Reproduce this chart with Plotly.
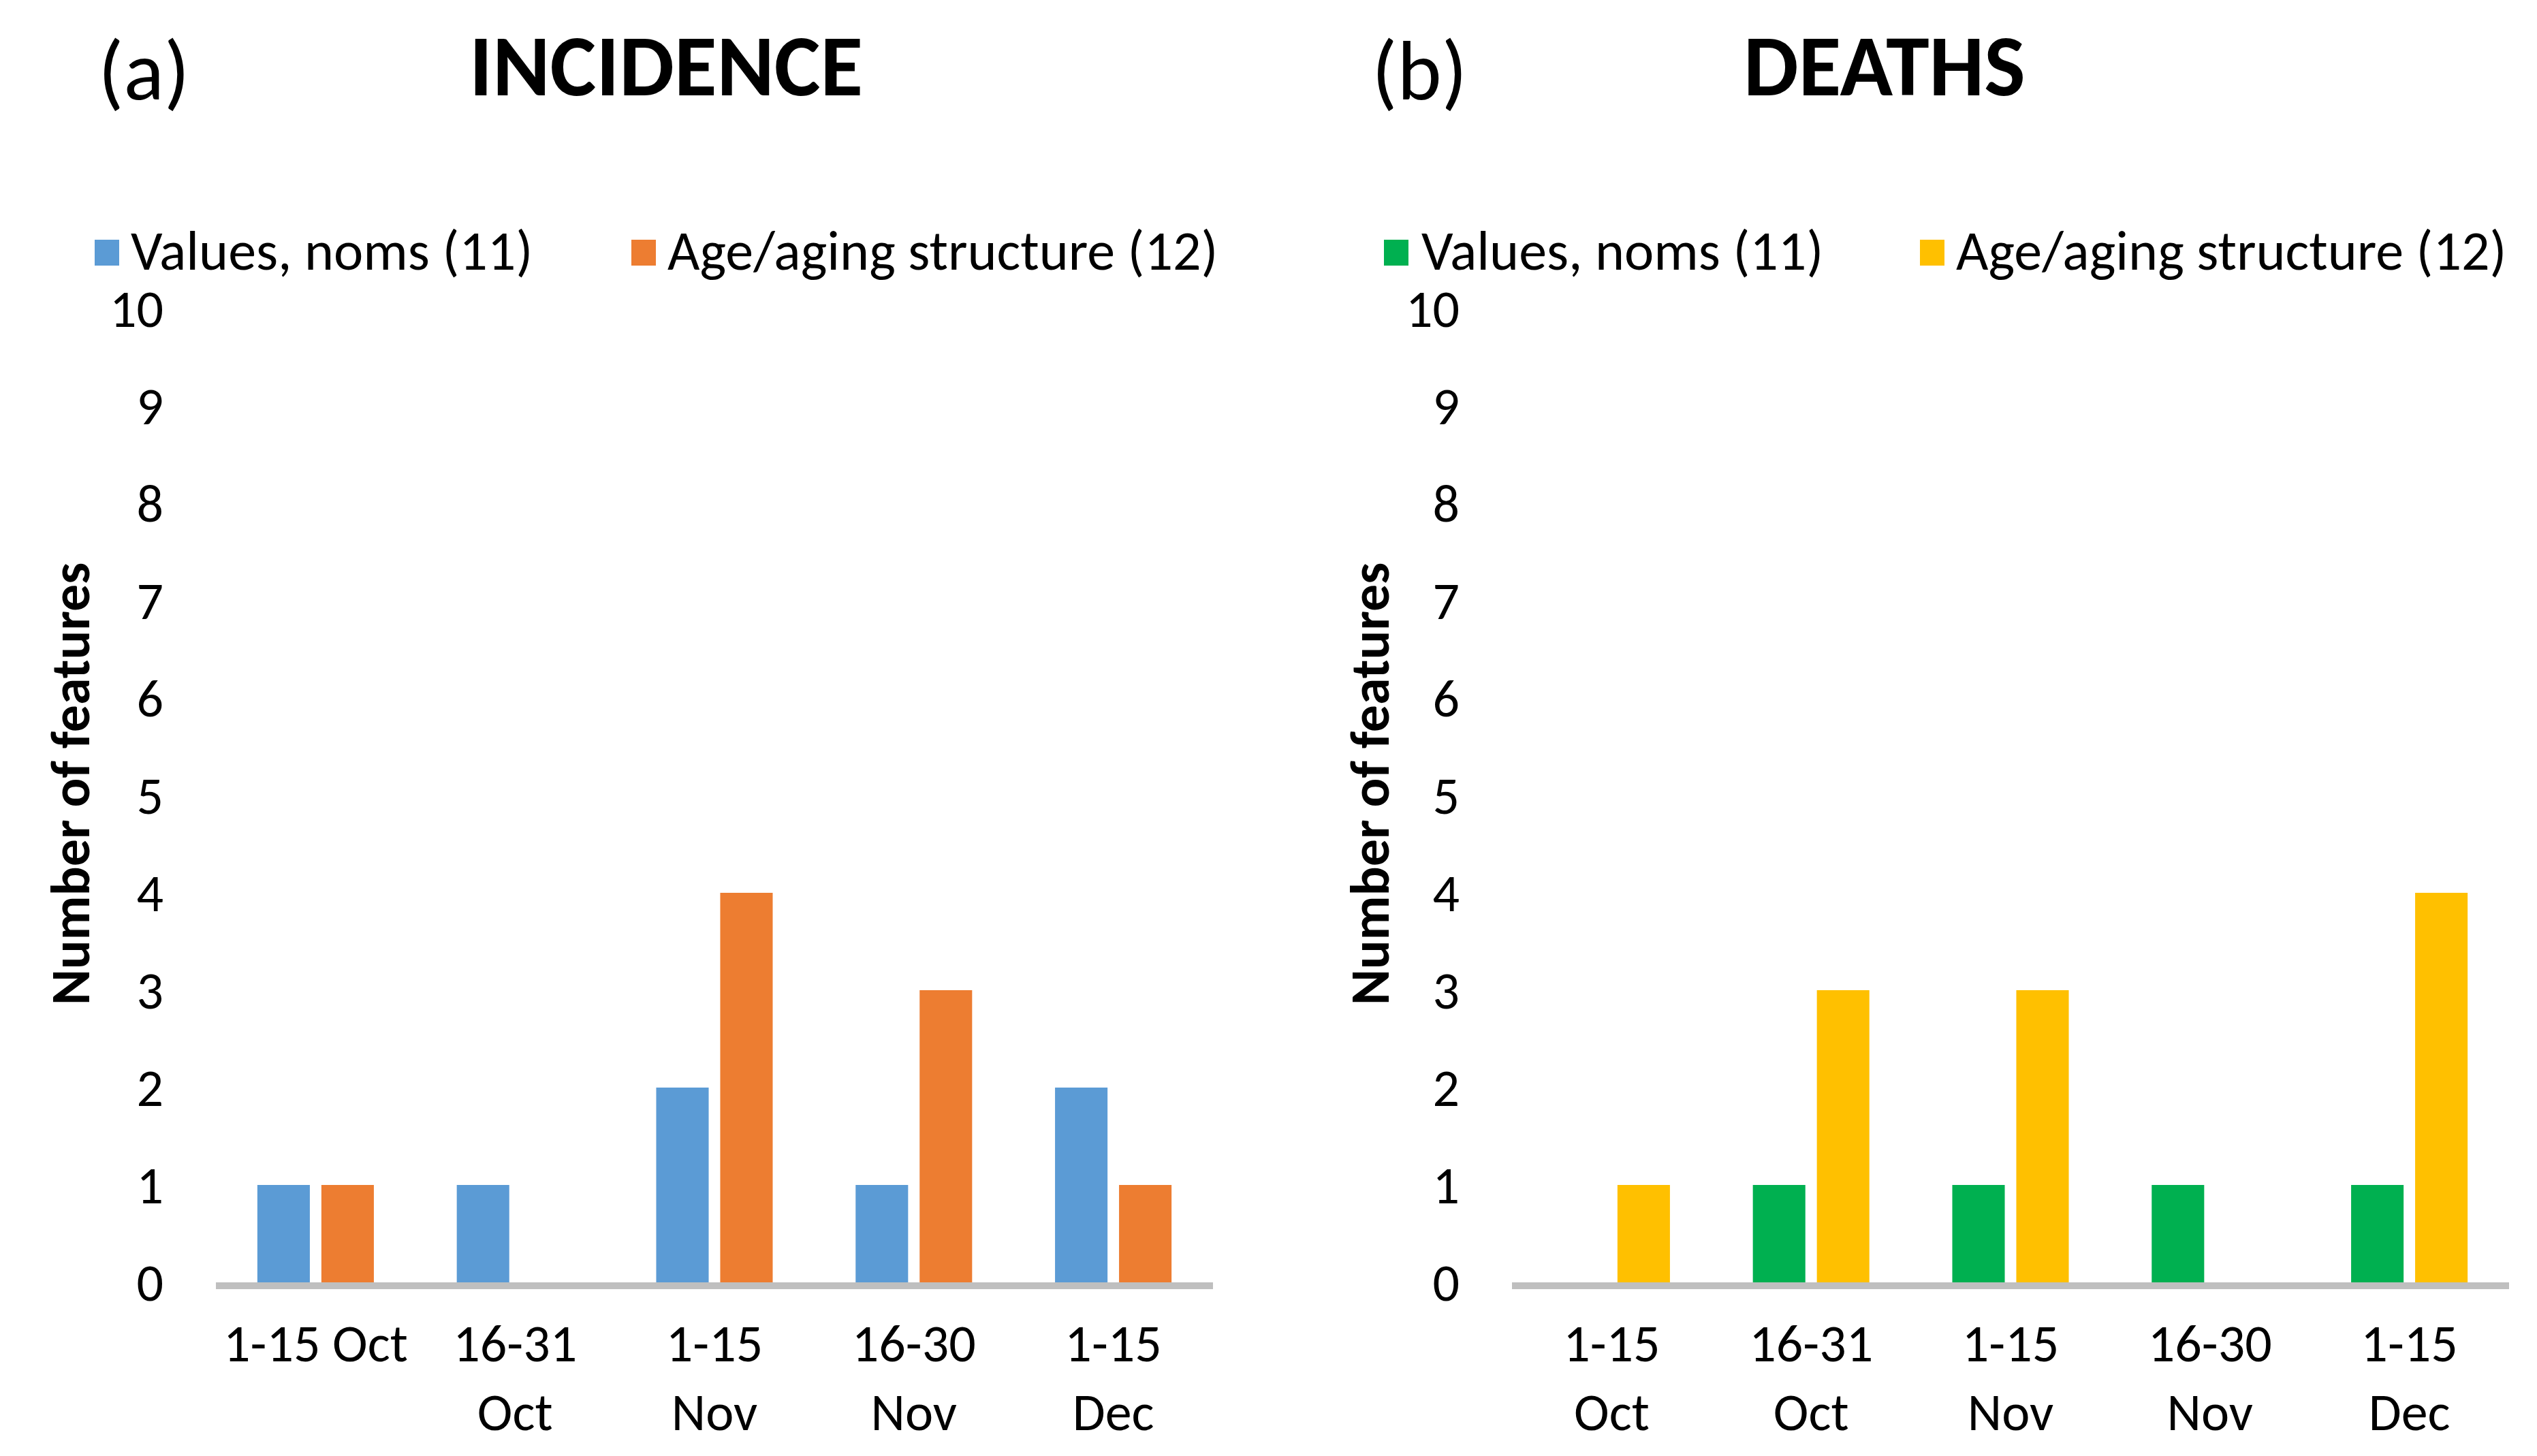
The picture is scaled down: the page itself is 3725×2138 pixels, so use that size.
import plotly.graph_objects as go

# ---- data ----
periods = ["1-15 Oct", "16-31 Oct", "1-15 Nov", "16-30 Nov", "1-15 Dec"]
ticktext_a = ["1-15 Oct", "16-31<br>Oct", "1-15<br>Nov", "16-30<br>Nov", "1-15<br>Dec"]
ticktext_b = ["1-15<br>Oct", "16-31<br>Oct", "1-15<br>Nov", "16-30<br>Nov", "1-15<br>Dec"]
series_names = ["Values, noms (11)", "Age/aging structure (12)"]
incidence_values = [1, 1, 2, 1, 2]
incidence_age = [1, 0, 4, 3, 1]
deaths_values = [0, 1, 1, 1, 1]
deaths_age = [1, 3, 3, 0, 4]
yticks = list(range(0, 11))

colors_a = ["#5B9BD5", "#ED7D31"]
colors_b = ["#00B050", "#FFC000"]

FONT = "Carlito, 'Liberation Sans Narrow', 'Arial Narrow', 'Liberation Sans', sans-serif"
W, H = 3725, 2138

fig = go.Figure()
fig.add_trace(go.Bar(x=periods, y=incidence_values, name=series_names[0],
                     marker_color=colors_a[0], xaxis="x", yaxis="y", showlegend=False))
fig.add_trace(go.Bar(x=periods, y=incidence_age, name=series_names[1],
                     marker_color=colors_a[1], xaxis="x", yaxis="y", showlegend=False))
fig.add_trace(go.Bar(x=periods, y=deaths_values, name=series_names[0],
                     marker_color=colors_b[0], xaxis="x2", yaxis="y2", showlegend=False))
fig.add_trace(go.Bar(x=periods, y=deaths_age, name=series_names[1],
                     marker_color=colors_b[1], xaxis="x2", yaxis="y2", showlegend=False))

ydom = [1 - 1875 / H, 1 - 445 / H]
tickfont = dict(family=FONT, size=78, color="black")

xcommon = dict(type="category", categoryorder="array", categoryarray=periods,
               tickvals=periods, showline=True, linecolor="#BFBFBF", linewidth=10,
               showgrid=False, zeroline=False, ticks="", tickfont=tickfont,
               ticklabelstandoff=12, fixedrange=True, automargin=False)
ycommon = dict(range=[0, 10], tickvals=yticks, showgrid=False, zeroline=False,
               showline=False, ticks="", tickfont=tickfont, ticklabelstandoff=76,
               domain=ydom, fixedrange=True, automargin=False)

fig.update_layout(
    template="none",
    width=W, height=H, autosize=False,
    margin=dict(l=0, r=0, t=0, b=0, pad=0, autoexpand=False),
    paper_bgcolor="white", plot_bgcolor="white",
    barmode="group", bargap=0.358, bargroupgap=0.18,
    font=dict(family=FONT, color="black"),
    showlegend=False,
    xaxis=dict(domain=[309 / W, 1773 / W], ticktext=ticktext_a, anchor="y", **xcommon),
    xaxis2=dict(domain=[2212 / W, 3676 / W], ticktext=ticktext_b, anchor="y2", **xcommon),
    yaxis=dict(anchor="x", **ycommon),
    yaxis2=dict(anchor="x2", **ycommon),
)

annotations = []
shapes = []

def add_panel(label, title, label_x, title_x, ytitle_x, legend_items):
    annotations.append(dict(text=label, x=label_x / W, y=1 - 95 / H, xref="paper", yref="paper",
                            xanchor="left", yanchor="middle", showarrow=False,
                            font=dict(family=FONT, size=124, color="black")))
    annotations.append(dict(text="<b>" + title + "</b>", x=title_x / W, y=1 - 88 / H,
                            xref="paper", yref="paper", xanchor="center", yanchor="middle",
                            showarrow=False, font=dict(family=FONT, size=128, color="black")))
    annotations.append(dict(text="<b>Number of features</b>", x=ytitle_x / W, y=1 - 1143 / H,
                            xref="paper", yref="paper", xanchor="center", yanchor="middle",
                            textangle=-90, showarrow=False,
                            font=dict(family=FONT, size=80, color="black")))
    for (sq_x, txt_x, name, col) in legend_items:
        shapes.append(dict(type="rect", xref="paper", yref="paper",
                           x0=sq_x / W, x1=(sq_x + 36) / W, y0=1 - 382 / H, y1=1 - 344 / H,
                           fillcolor=col, line=dict(width=0)))
        annotations.append(dict(text=name, x=txt_x / W, y=1 - 360 / H, xref="paper", yref="paper",
                                xanchor="left", yanchor="middle", showarrow=False,
                                font=dict(family=FONT, size=82, color="black")))

add_panel("(a)", "INCIDENCE", 134, 970, 95,
          [(131, 182, series_names[0], colors_a[0]), (919, 970, series_names[1], colors_a[1])])
add_panel("(b)", "DEATHS", 2004, 2759, 2003,
          [(2024, 2077, series_names[0], colors_b[0]), (2811, 2862, series_names[1], colors_b[1])])

fig.update_layout(annotations=annotations, shapes=shapes)

fig.write_html("out.html")
